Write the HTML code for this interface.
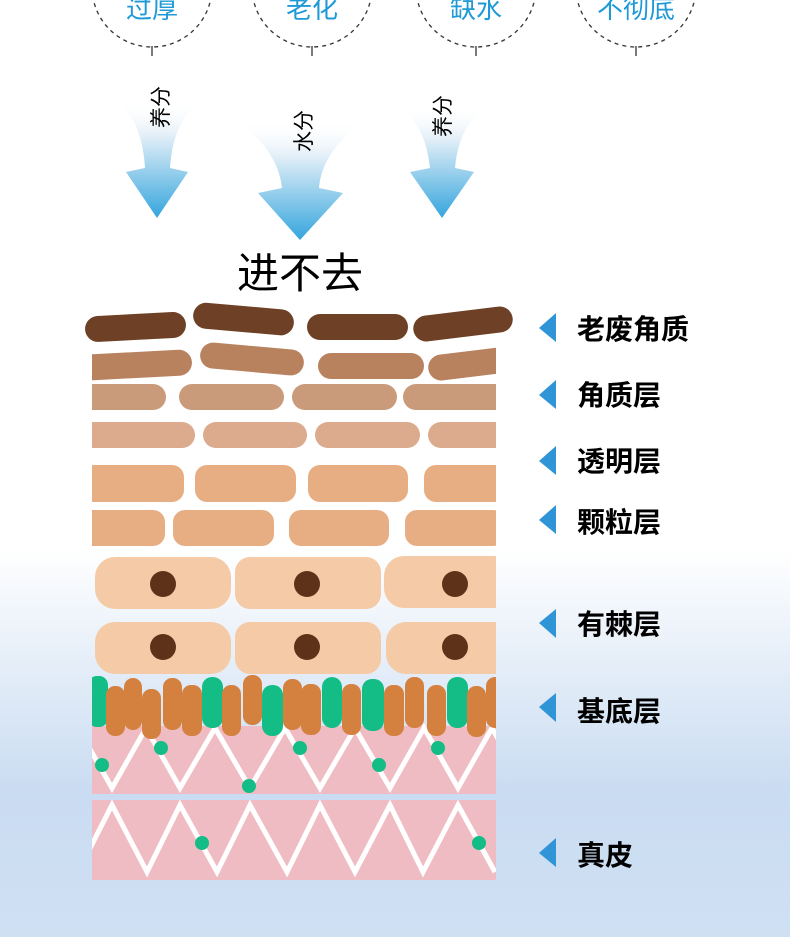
<!DOCTYPE html>
<html><head><meta charset="utf-8"><style>
html,body{margin:0;padding:0}
body{width:790px;height:937px;overflow:hidden;background:linear-gradient(180deg,#fff 0,#fff 550px,#e8f0f9 650px,#cadcf2 790px,#cfe0f3 937px);font-family:"Liberation Sans","Noto Sans CJK SC",sans-serif}
</style></head><body>
<svg width="790" height="937" viewBox="0 0 790 937" xmlns="http://www.w3.org/2000/svg" style="position:absolute;left:0;top:0">
<defs>
<linearGradient id="ag" x1="0" y1="0" x2="0" y2="1">
<stop offset="0" stop-color="#fff" stop-opacity="0"/><stop offset="0.3" stop-color="#e3eff8"/><stop offset="1" stop-color="#34a5dd"/>
</linearGradient>
<clipPath id="box"><rect x="92" y="300" width="404" height="580"/></clipPath>
</defs>
<g fill="none" stroke="#333" stroke-width="1.3" stroke-dasharray="4,4">
<circle cx="152" cy="-13" r="60"/><circle cx="312" cy="-13" r="60"/><circle cx="476" cy="-13" r="60"/><circle cx="636" cy="-13" r="60"/>
</g>
<g stroke="#333" stroke-width="1.3"><line x1="152" y1="46" x2="152" y2="56"/><line x1="312" y1="46" x2="312" y2="56"/><line x1="476" y1="46" x2="476" y2="56"/><line x1="636" y1="46" x2="636" y2="56"/></g>
<g fill="#1f9ad7" font-size="26" text-anchor="middle">
<text x="152" y="18">过厚</text><text x="312" y="18">老化</text><text x="476" y="18">缺水</text><text x="636" y="18">不彻底</text>
</g>
<path d="M114,100 Q142,118 145,168 L126,172 L157,218 L188,172 L170,168 Q173,118 204,100 Z" fill="url(#ag)"/>
<path d="M236,120 Q278,150 282,188 L258,193 L300,240 L343,193 L319,188 Q322,150 366,120 Z" fill="url(#ag)"/>
<path d="M396,105 Q425,122 430,168 L410,172 L442,218 L474,172 L455,168 Q459,122 490,105 Z" fill="url(#ag)"/>
<g font-size="21" fill="#000">
<text transform="translate(168,107) rotate(-90)" text-anchor="middle">养分</text>
<text transform="translate(311,131) rotate(-90)" text-anchor="middle">水分</text>
<text transform="translate(450,116) rotate(-90)" text-anchor="middle">养分</text>
</g>
<text x="300" y="288" font-size="42" text-anchor="middle" fill="#000">进不去</text>
<g fill="#6e4126">
<rect x="85" y="314" width="101" height="26" rx="13" transform="rotate(-3 135 327)"/>
<rect x="193" y="306" width="101" height="26" rx="13" transform="rotate(5 243 319)"/>
<rect x="307" y="314" width="101" height="26" rx="13"/>
<rect x="413" y="311" width="100" height="26" rx="13" transform="rotate(-7 463 324)"/>
</g>
<g clip-path="url(#box)">
<g fill="#b8825f">
<rect x="80" y="352" width="112" height="26" rx="13" transform="rotate(-3 136 365)"/>
<rect x="200" y="346" width="104" height="26" rx="13" transform="rotate(5 252 359)"/>
<rect x="318" y="353" width="106" height="26" rx="13"/>
<rect x="428" y="351" width="90" height="26" rx="13" transform="rotate(-7 470 364)"/>
</g>
<g fill="#c99b7b">
<rect x="80" y="384" width="86" height="26" rx="13"/><rect x="179" y="384" width="105" height="26" rx="13"/><rect x="292" y="384" width="105" height="26" rx="13"/><rect x="403" y="384" width="110" height="26" rx="13"/>
</g>
<g fill="#dcab8e">
<rect x="80" y="422" width="115" height="26" rx="13"/><rect x="203" y="422" width="104" height="26" rx="13"/><rect x="315" y="422" width="105" height="26" rx="13"/><rect x="428" y="422" width="90" height="26" rx="13"/>
</g>
<g fill="#e8ae83">
<rect x="80" y="465" width="104" height="37" rx="12"/><rect x="195" y="465" width="101" height="37" rx="12"/><rect x="308" y="465" width="100" height="37" rx="12"/><rect x="424" y="465" width="100" height="37" rx="12"/>
<rect x="80" y="510" width="85" height="36" rx="12"/><rect x="173" y="510" width="101" height="36" rx="12"/><rect x="289" y="510" width="100" height="36" rx="12"/><rect x="405" y="510" width="100" height="36" rx="12"/>
</g>
<g fill="#f5cba7">
<rect x="95" y="557" width="136" height="52" rx="20"/><rect x="235" y="557" width="146" height="52" rx="15"/><rect x="384" y="556" width="130" height="52" rx="20"/>
<rect x="95" y="622" width="136" height="52" rx="20"/><rect x="235" y="622" width="146" height="52" rx="15"/><rect x="386" y="622" width="130" height="52" rx="20"/>
</g>
<g fill="#5e3219"><circle cx="163" cy="584" r="13"/><circle cx="307" cy="584" r="13"/><circle cx="455" cy="584" r="13"/><circle cx="163" cy="647" r="13"/><circle cx="307" cy="647" r="13"/><circle cx="455" cy="647" r="13"/></g>
<rect x="92" y="726" width="404" height="68" fill="#f0bcc3"/>
<rect x="92" y="800" width="404" height="80" fill="#f0bcc3"/>
<polyline points="78,728 112,788 146,728 180,788 215,728 250,788 285,728 320,788 355,728 390,788 424,728 458,788 492,728 510,760" fill="none" stroke="#fff" stroke-width="5"/>
<polyline points="78,872 112,805 147,872 180,805 217,872 250,805 287,872 320,805 355,872 390,805 423,872 458,805 495,872" fill="none" stroke="#fff" stroke-width="5"/>
<g>
<rect x="88" y="676" width="20" height="51" rx="9" fill="#13bd85"/>
<rect x="106" y="686" width="19" height="50" rx="9" fill="#d4813f"/>
<rect x="124" y="678" width="18" height="52" rx="9" fill="#d4813f"/>
<rect x="142" y="689" width="19" height="50" rx="9" fill="#d4813f"/>
<rect x="163" y="678" width="19" height="52" rx="9" fill="#d4813f"/>
<rect x="182" y="685" width="20" height="51" rx="9" fill="#d4813f"/>
<rect x="202" y="677" width="21" height="51" rx="10" fill="#13bd85"/>
<rect x="222" y="685" width="19" height="51" rx="9" fill="#d4813f"/>
<rect x="243" y="675" width="19" height="50" rx="9" fill="#d4813f"/>
<rect x="262" y="685" width="21" height="51" rx="10" fill="#13bd85"/>
<rect x="283" y="679" width="19" height="51" rx="9" fill="#d4813f"/>
<rect x="301" y="684" width="20" height="51" rx="9" fill="#d4813f"/>
<rect x="322" y="677" width="20" height="51" rx="10" fill="#13bd85"/>
<rect x="342" y="684" width="19" height="51" rx="9" fill="#d4813f"/>
<rect x="362" y="679" width="22" height="52" rx="10" fill="#13bd85"/>
<rect x="384" y="685" width="20" height="51" rx="9" fill="#d4813f"/>
<rect x="405" y="677" width="19" height="51" rx="9" fill="#d4813f"/>
<rect x="427" y="685" width="19" height="51" rx="9" fill="#d4813f"/>
<rect x="447" y="677" width="21" height="51" rx="10" fill="#13bd85"/>
<rect x="467" y="686" width="19" height="51" rx="9" fill="#d4813f"/>
<rect x="486" y="677" width="19" height="51" rx="9" fill="#d4813f"/>
</g>
<g fill="#13bd85"><circle cx="102" cy="765" r="7"/><circle cx="161" cy="748" r="7"/><circle cx="249" cy="786" r="7"/><circle cx="300" cy="748" r="7"/><circle cx="379" cy="765" r="7"/><circle cx="438" cy="748" r="7"/><circle cx="202" cy="843" r="7"/><circle cx="479" cy="843" r="7"/></g>
</g>
<g fill="#2f95d6">
<polygon points="556,313 556,342 539,328"/><polygon points="556,380 556,409 539,395"/><polygon points="556,446 556,475 539,461"/><polygon points="556,505 556,534 539,520"/><polygon points="556,609 556,638 539,623"/><polygon points="556,693 556,722 539,707"/><polygon points="556,838 556,867 539,853"/>
</g>
<g font-size="28" font-weight="bold" fill="#000">
<text x="577" y="339">老废角质</text><text x="577" y="405">角质层</text><text x="577" y="471">透明层</text><text x="577" y="532">颗粒层</text><text x="577" y="634">有棘层</text><text x="577" y="721">基底层</text><text x="577" y="865">真皮</text>
</g>
</svg>
</body></html>
